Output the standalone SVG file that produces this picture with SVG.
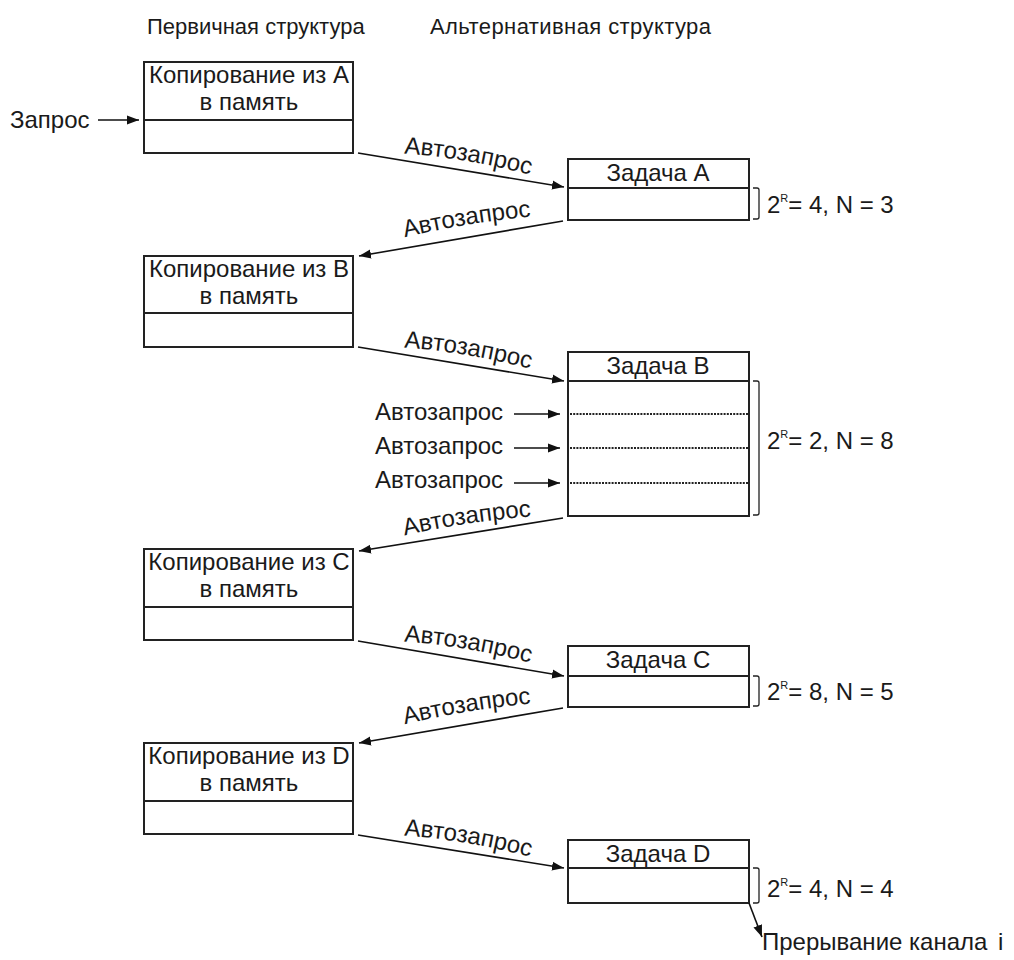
<svg xmlns="http://www.w3.org/2000/svg" width="1014" height="960" viewBox="0 0 1014 960">
<defs>
<marker id="ahs" viewBox="0 0 12 10" refX="12" refY="5" markerWidth="12" markerHeight="10" markerUnits="userSpaceOnUse" orient="auto">
<path d="M0,0.5 L12,5 L0,9.5 Z" fill="#111"/>
</marker>
<path id="l1" d="M396,153 Q466,157 538,177"/>
<path id="l2" d="M398,239 Q466,222 538,216"/>
<path id="l3" d="M396,347 Q466,351 538,371"/>
<path id="l4" d="M398,537 Q466,521 538,516"/>
<path id="l5" d="M396,641 Q466,645 538,665"/>
<path id="l6" d="M398,726 Q466,709 538,703"/>
<path id="l7" d="M396,835 Q466,839 538,859"/>
</defs>
<style>
text{font-family:"Liberation Sans",Arial,sans-serif;fill:#1a1a1a;}
.h{font-size:22px;}
.t{font-size:24px;}
.b{font-size:24px;text-anchor:middle;}
.lab{font-size:24px;}
.box{fill:#fff;stroke:#222;stroke-width:2;}
.div{stroke:#222;stroke-width:2;fill:none;}
.dot{stroke:#222;stroke-width:2;stroke-dasharray:2,1.2;fill:none;}
.con{stroke:#111;stroke-width:1.6;fill:none;marker-end:url(#ahs);}
.br{stroke:#222;stroke-width:1.3;fill:none;}
.sup{font-size:11px;}
</style>

<g id="headers">
<text class="h" x="147" y="34">Первичная структура</text>
<text class="h" x="430" y="34" textLength="281">Альтернативная структура</text>
</g>

<g id="copyA">
<rect class="box" x="144" y="62" width="209" height="91"/>
<line class="div" x1="144" y1="120" x2="353" y2="120"/>
<text class="b" x="249" y="83">Копирование из А</text>
<text class="b" x="249" y="110">в память</text>
</g>
<g id="copyB">
<rect class="box" x="144" y="256" width="209" height="91"/>
<line class="div" x1="144" y1="313" x2="353" y2="313"/>
<text class="b" x="249" y="277">Копирование из В</text>
<text class="b" x="249" y="304">в память</text>
</g>
<g id="copyC">
<rect class="box" x="144" y="549" width="209" height="91"/>
<line class="div" x1="144" y1="607" x2="353" y2="607"/>
<text class="b" x="249" y="570">Копирование из С</text>
<text class="b" x="249" y="597">в память</text>
</g>
<g id="copyD">
<rect class="box" x="144" y="743" width="209" height="91"/>
<line class="div" x1="144" y1="801" x2="353" y2="801"/>
<text class="b" x="249" y="764">Копирование из D</text>
<text class="b" x="249" y="791">в память</text>
</g>

<g id="taskA">
<rect class="box" x="568" y="159" width="181" height="61"/>
<line class="div" x1="568" y1="188" x2="749" y2="188"/>
<text class="b" x="658" y="181">Задача A</text>
<path class="br" d="M753,188 H757 Q759,188 759,190 V217 Q759,219 757,219 H753"/>
<text class="t" x="767" y="213">2<tspan class="sup" dy="-11">R</tspan><tspan dx="0" dy="11">= 4, N = 3</tspan></text>
</g>
<g id="taskB">
<rect class="box" x="568" y="352" width="181" height="164"/>
<line class="div" x1="568" y1="381" x2="749" y2="381"/>
<line class="dot" x1="570" y1="414" x2="748" y2="414"/>
<line class="dot" x1="570" y1="448" x2="748" y2="448"/>
<line class="dot" x1="570" y1="483" x2="748" y2="483"/>
<text class="b" x="658" y="374">Задача B</text>
<path class="br" d="M753,381 H757 Q759,381 759,383 V513 Q759,515 757,515 H753"/>
<text class="t" x="767" y="449">2<tspan class="sup" dy="-11">R</tspan><tspan dx="0" dy="11">= 2, N = 8</tspan></text>
</g>
<g id="taskC">
<rect class="box" x="568" y="646" width="181" height="61"/>
<line class="div" x1="568" y1="676" x2="749" y2="676"/>
<text class="b" x="658" y="668">Задача C</text>
<path class="br" d="M753,676 H757 Q759,676 759,678 V704 Q759,706 757,706 H753"/>
<text class="t" x="767" y="700">2<tspan class="sup" dy="-11">R</tspan><tspan dx="0" dy="11">= 8, N = 5</tspan></text>
</g>
<g id="taskD">
<rect class="box" x="568" y="840" width="181" height="63"/>
<line class="div" x1="568" y1="868" x2="749" y2="868"/>
<text class="b" x="658" y="862">Задача D</text>
<path class="br" d="M753,868 H757 Q759,868 759,870 V901 Q759,903 757,903 H753"/>
<text class="t" x="767" y="897">2<tspan class="sup" dy="-11">R</tspan><tspan dx="0" dy="11">= 4, N = 4</tspan></text>
</g>

<g id="labels">
<text class="t" x="10" y="128">Запрос</text>
<text class="t" x="375" y="420">Автозапрос</text>
<text class="t" x="375" y="454">Автозапрос</text>
<text class="t" x="375" y="488">Автозапрос</text>
<text class="t" x="762" y="950">Прерывание канала<tspan x="998">i</tspan></text>
<text class="lab"><textPath href="#l1" startOffset="50%" text-anchor="middle">Автозапрос</textPath></text>
<text class="lab"><textPath href="#l2" startOffset="50%" text-anchor="middle">Автозапрос</textPath></text>
<text class="lab"><textPath href="#l3" startOffset="50%" text-anchor="middle">Автозапрос</textPath></text>
<text class="lab"><textPath href="#l4" startOffset="50%" text-anchor="middle">Автозапрос</textPath></text>
<text class="lab"><textPath href="#l5" startOffset="50%" text-anchor="middle">Автозапрос</textPath></text>
<text class="lab"><textPath href="#l6" startOffset="50%" text-anchor="middle">Автозапрос</textPath></text>
<text class="lab"><textPath href="#l7" startOffset="50%" text-anchor="middle">Автозапрос</textPath></text>
</g>

<g id="connectors">
<line class="con" x1="98" y1="120" x2="139" y2="120"/>
<line class="con" x1="358" y1="153" x2="564" y2="187"/>
<line class="con" x1="563" y1="221" x2="359" y2="256"/>
<line class="con" x1="358" y1="347" x2="564" y2="381"/>
<line class="con" x1="563" y1="518" x2="359" y2="551"/>
<line class="con" x1="358" y1="641" x2="564" y2="676"/>
<line class="con" x1="563" y1="708" x2="359" y2="743"/>
<line class="con" x1="358" y1="835" x2="564" y2="868"/>
<line class="con" x1="514" y1="414" x2="560" y2="414"/>
<line class="con" x1="514" y1="448" x2="560" y2="448"/>
<line class="con" x1="514" y1="483" x2="560" y2="483"/>
<line class="con" x1="749" y1="903" x2="762" y2="937"/>
</g>
</svg>
